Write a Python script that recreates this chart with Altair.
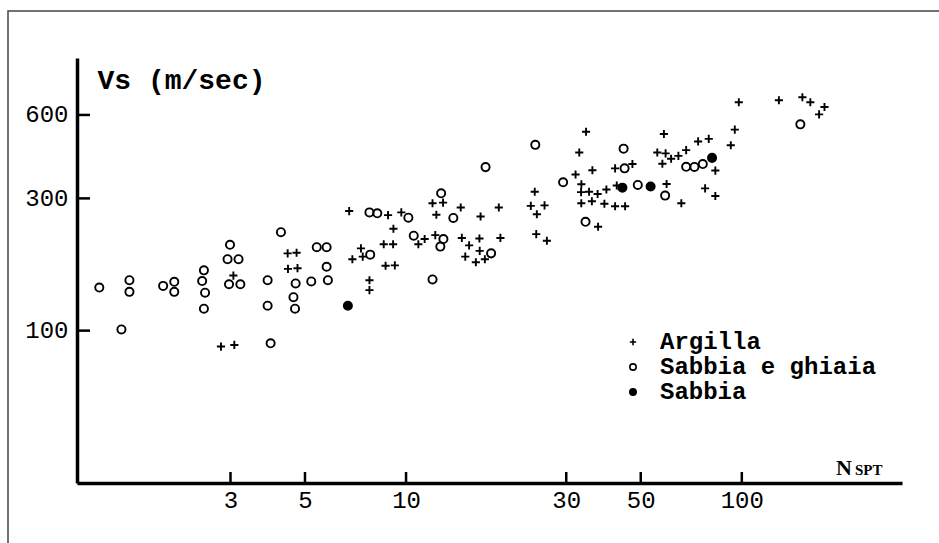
import altair as alt
import pandas as pd

categories = ["Argilla", "Sabbia e ghiaia", "Sabbia"]

argilla_n = [2.81, 3.08, 3.06, 4.44, 4.72, 4.45, 4.75, 6.77, 8.84, 9.68, 9.17, 11.36, 10.88,
             7.34, 6.92, 7.43, 8.58, 9.15, 8.69, 9.26, 7.78, 7.78, 12.22, 11.99, 12.89, 12.31,
             14.55, 16.67, 18.89, 14.66, 16.54, 15.41, 16.57, 15.01, 16.14, 17.17, 19.1, 24.17,
             23.53, 25.85, 24.52, 24.42, 26.27, 34.36, 32.8, 35.89, 31.98, 33.28, 33.21, 35.08,
             37.2, 39.51, 33.26, 35.77, 38.97, 41.94, 44.92, 41.94, 37.32, 42.42, 47.23, 58.61,
             56.01, 59.3, 58.0, 61.58, 64.74, 68.27, 74.11, 79.72, 59.7, 66.05, 83.4, 77.75,
             83.4, 97.97, 95.3, 92.73, 128.97, 151.5, 160.0, 176.3, 169.9]
argilla_vs = [87.6, 88.8, 158, 190, 191, 167, 168, 270, 261, 267, 233, 214, 205,
              198, 181, 185, 205, 205, 171.5, 172, 152, 140, 221, 288, 289.5, 262,
              278, 258, 278, 216, 215, 203, 194, 185, 176.5, 181, 216, 317,
              282, 283, 263, 223, 211, 522, 439, 379, 366, 337.5, 316, 317,
              311, 323, 288, 293, 287, 281, 281, 385, 237, 334, 399, 512,
              439, 436, 400, 417, 427, 448, 481.5, 492, 338, 288, 378, 326,
              306, 667, 531, 466.5, 678, 695, 667, 641, 603]

ghiaia_n = [1.22, 1.50, 1.50, 1.42, 1.89, 2.04, 2.04, 2.50, 2.47, 2.52, 2.50, 2.99, 2.94,
            3.17, 2.97, 3.21, 3.87, 3.87, 3.95, 4.69, 4.62, 4.67, 5.22, 5.42, 5.80, 5.80,
            5.85, 4.24, 7.78, 8.21, 10.16, 10.54, 7.82, 11.99, 12.72, 13.83, 12.92, 12.65,
            17.25, 17.92, 24.26, 29.36, 34.24, 44.45, 44.76, 49.0, 59.1, 68.27, 72.26,
            76.53, 149.4]
ghiaia_vs = [143, 152, 138, 101, 145, 150, 138, 165, 151, 137, 120, 204, 181,
             181, 147, 147, 152, 123, 90, 148, 132, 120, 150.5, 200, 200, 170,
             152, 226.5, 267, 265, 255.5, 220, 188, 153, 313, 255, 214, 201,
             389, 190, 468, 343, 247, 453.5, 385, 335.5, 307, 390, 389.5,
             399, 555]

sabbia_n = [6.71, 44.09, 53.5, 81.54]
sabbia_vs = [123, 328, 331, 420]

x_ticks = [3, 5, 10, 30, 50, 100]
y_ticks = [100, 300, 600]

rows = []
for cat, ns, vs in zip(categories, [argilla_n, ghiaia_n, sabbia_n],
                       [argilla_vs, ghiaia_vs, sabbia_vs]):
    for n, v in zip(ns, vs):
        rows.append({"N": n, "Vs": v, "Tipo": cat})
df = pd.DataFrame(rows)

W, H = 825, 425
MONO = "Liberation Mono"
xscale = alt.Scale(type="log", domain=[1.047, 300], nice=False)
yscale = alt.Scale(type="log", domain=[28.2, 963], nice=False)

CROSS = "M-1,0H1M0,-1V1"

legend = alt.Legend(
    title=None, orient="none", legendX=544, legendY=272,
    labelFont=MONO, labelFontSize=24, labelFontWeight="bold", labelColor="black",
    symbolSize=40, symbolStrokeWidth=1.6,
    labelOffset=15, rowPadding=1, padding=0, labelLimit=600,
)

points = alt.Chart(df).mark_point(opacity=1, strokeWidth=1.9, size=66).encode(
    x=alt.X("N:Q", scale=xscale,
            axis=alt.Axis(values=x_ticks, format="d", ticks=False, grid=False, title=None,
                          labelFont=MONO, labelFontSize=24, labelColor="black",
                          labelPadding=5, labelOverlap=False, labelFlush=False,
                          domainWidth=3.5, domainColor="black")),
    y=alt.Y("Vs:Q", scale=yscale,
            axis=alt.Axis(values=y_ticks, format="d", ticks=False, grid=False,
                          title="Vs (m/sec)", titleAngle=0, titleX=20, titleY=30,
                          titleAlign="left", titleBaseline="alphabetic",
                          titleFont=MONO, titleFontSize=28, titleFontWeight="bold",
                          titleColor="black",
                          labelFont=MONO, labelFontSize=24, labelColor="black",
                          labelPadding=9, labelOverlap=False, labelFlush=False,
                          domainWidth=3.5, domainColor="black")),
    shape=alt.Shape("Tipo:N", scale=alt.Scale(domain=categories, range=[CROSS, "circle", "circle"]),
                    legend=legend),
    fill=alt.Fill("Tipo:N", scale=alt.Scale(domain=categories, range=["transparent", "transparent", "black"]),
                  legend=legend),
    stroke=alt.Stroke("Tipo:N", scale=alt.Scale(domain=categories, range=["black", "black", "black"]),
                      legend=legend),
)

xt = alt.Chart(pd.DataFrame({"N": x_ticks})).mark_rule(color="black", strokeWidth=2.5).encode(
    x=alt.X("N:Q", scale=xscale), y=alt.value(H), y2=alt.value(H - 11))
yt = alt.Chart(pd.DataFrame({"Vs": y_ticks})).mark_rule(color="black", strokeWidth=2.5).encode(
    y=alt.Y("Vs:Q", scale=yscale), x=alt.value(0), x2=alt.value(13))

frame = alt.Chart(pd.DataFrame({"a": [0]})).mark_rect(
    fillOpacity=0, stroke="#444", strokeWidth=1.5).encode(
    x=alt.value(8 - 77), x2=alt.value(1000), y=alt.value(11 - 58), y2=alt.value(600))

n_txt = alt.Chart(pd.DataFrame({"t": ["N"]})).mark_text(
    font="Liberation Serif", fontSize=22, fontWeight="bold", align="left",
    baseline="alphabetic", color="black").encode(
    text="t:N", x=alt.value(759), y=alt.value(417))
spt_txt = alt.Chart(pd.DataFrame({"t": ["SPT"]})).mark_text(
    font="Liberation Serif", fontSize=15, fontWeight="bold", align="left",
    baseline="alphabetic", color="black").encode(
    text="t:N", x=alt.value(778), y=alt.value(417))

chart = alt.layer(points, xt, yt, frame, n_txt, spt_txt).properties(
    width=W, height=H,
    padding={"left": 77, "top": 58, "right": 37, "bottom": 60},
    autosize=alt.AutoSizeParams(type="none"),
    background="white",
).configure_view(stroke=None)

chart.save("out.html", embed_options={"renderer": "svg", "actions": False})
